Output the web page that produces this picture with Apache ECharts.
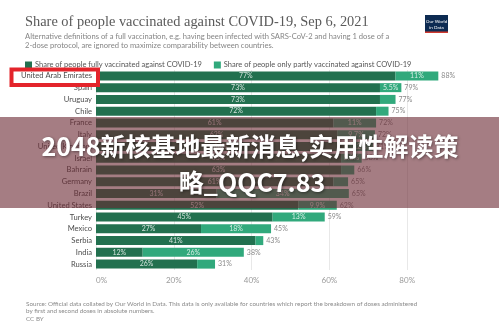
<!DOCTYPE html>
<html>
<head>
<meta charset="utf-8">
<script src="https://cdn.jsdelivr.net/npm/echarts@6/dist/echarts.min.js"></script>
<style>
  html, body { margin: 0; padding: 0; background: #fff; }
  #chart { width: 499px; height: 327px; }
</style>
</head>
<body>
<div id="chart"></div>
<script>
// Countries, top to bottom
const countries = ['United Arab Emirates', 'Spain', 'Uruguay', 'Chile', 'France', 'Italy',
  'United Kingdom', 'Israel', 'Bahrain', 'Germany', 'Brazil', 'United States',
  'Turkey', 'Mexico', 'Serbia', 'India', 'Russia'];
// Share fully vaccinated (%)
const fully = [77, 73, 73, 72, 61, 62, 64, 63, 63, 61, 31, 52, 45.4, 27, 41, 12, 26];
// Share only partly vaccinated (%)
const partly = [11, 5.5, 4, 3.2, 11, 9.7, 7.2, 5.3, 3.4, 3.8, 34, 9.9, 13.4, 18, 2, 26, 4.6];
// Axis range and step (%)
const xMin = 0, xMax = 100, xStep = 20;

const seriesNames = ['Share of people fully vaccinated against COVID-19',
  'Share of people only partly vaccinated against COVID-19'];

const totals = fully.map((v, i) => v + partly[i]);
const fmtPct = v => (v < 10 ? v.toFixed(1) : Math.round(v)) + '%';

const chart = echarts.init(document.getElementById('chart'), null, { renderer: 'canvas' });

const labelFont = 'Lato, "Noto Sans", sans-serif';

chart.setOption({
  animation: false,
  backgroundColor: '#ffffff',
  title: [{
    text: 'Share of people vaccinated against COVID-19, Sep 6, 2021',
    subtext: 'Alternative definitions of a full vaccination, e.g. having been infected with SARS-CoV-2 and having 1 dose of a\n2-dose protocol, are ignored to maximize comparability between countries.',
    left: 20, top: 10,
    itemGap: 3,
    textStyle: { fontFamily: '"Liberation Serif", serif', fontSize: 14.4, fontWeight: 'normal', color: '#5a5a5a' },
    subtextStyle: { fontFamily: labelFont, fontSize: 7.6, color: '#858585', lineHeight: 9 }
  }, {
    text: 'Source: Official data collated by Our World in Data. This data is only available for countries which report the breakdown of doses administered\nby first and second doses in absolute numbers.\nCC BY',
    left: 21, top: 295,
    textStyle: { fontFamily: labelFont, fontSize: 6.3, fontWeight: 'normal', color: '#8a8a8a', lineHeight: 7.5 }
  }],
  legend: {
    data: seriesNames,
    left: 20, top: 56,
    icon: 'rect', itemWidth: 7, itemHeight: 7, itemGap: 12,
    textStyle: { fontFamily: labelFont, fontSize: 7.5, color: '#555', padding: [0, 0, 0, -2] }
  },
  grid: { left: 96, right: 14, top: 70, height: 200 },
  xAxis: {
    type: 'value', min: xMin, max: xMax, interval: xStep,
    axisLine: { show: false }, axisTick: { show: false },
    axisLabel: {
      formatter: v => v + '%', fontFamily: labelFont, fontSize: 8, color: '#9a9a9a',
      margin: 6, showMaxLabel: false, alignMinLabel: 'left'
    },
    splitLine: { lineStyle: { color: ['#e8e8e8', '#e8e8e8', '#e8e8e8', '#e8e8e8', '#e8e8e8', 'rgba(0,0,0,0)'], width: 1 } }
  },
  yAxis: {
    type: 'category', data: countries, inverse: true,
    axisLine: { show: false }, axisTick: { show: false },
    axisLabel: { fontFamily: labelFont, fontSize: 7.6, color: '#4d4d4d', margin: 4 }
  },
  series: [{
    name: 'total', type: 'bar', data: totals, barWidth: 9, barGap: '-100%', z: 1,
    itemStyle: { color: 'rgba(0,0,0,0)' }, silent: true,
    label: { show: true, position: 'right', distance: 3, formatter: p => Math.round(p.value) + '%',
      fontFamily: labelFont, fontSize: 7, color: '#8a8a8a' }
  }, {
    name: seriesNames[0], type: 'bar', stack: 'vax', data: fully, barWidth: 9, z: 2,
    itemStyle: { color: '#22704f' },
    label: { show: true, position: 'inside', formatter: p => Math.round(p.value) + '%',
      fontFamily: labelFont, fontSize: 7, color: 'rgba(255,255,255,0.8)' }
  }, {
    name: seriesNames[1], type: 'bar', stack: 'vax', barWidth: 9, z: 2,
    data: partly.map(v => ({ value: v, label: { show: v >= 5 } })),
    itemStyle: { color: '#31a97c' },
    label: { position: 'inside', formatter: p => fmtPct(p.value),
      fontFamily: labelFont, fontSize: 7, color: 'rgba(255,255,255,0.8)' }
  }],
  graphic: [
    // Our World in Data badge
    { type: 'rect', left: 425, top: 15, shape: { width: 23, height: 18 }, style: { fill: '#0d2b52' }, z: 10 },
    { type: 'rect', left: 425, top: 31.5, shape: { width: 23, height: 1.5 }, style: { fill: '#d13a2f' }, z: 11 },
    { type: 'text', x: 436.5, y: 19, z: 11, style: { text: 'Our World\nin Data', fill: '#fff', align: 'center',
      verticalAlign: 'top', fontFamily: labelFont, fontSize: 4.6, lineHeight: 5.5 } },
    // red highlight around the first country
    { type: 'rect', z: 20, shape: { x: 11.5, y: 69.5, width: 86.5, height: 15.5 },
      style: { fill: 'none', stroke: '#e3242b', lineWidth: 4 } },
    // caption band
    { type: 'rect', z: 30, shape: { x: 0, y: 117, width: 499, height: 91 },
      style: { fill: 'rgba(105,38,48,0.6)' } },
    { type: 'text', z: 31, x: 250, y: 146, style: { text: '2048新核基地最新消息,实用性解读策',
      fill: '#ffffff', align: 'center', verticalAlign: 'middle', fontWeight: 'bold', fontSize: 25,
      fontFamily: '"Noto Sans CJK SC", sans-serif',
      textShadowColor: 'rgba(0,0,0,0.45)', textShadowBlur: 3, textShadowOffsetX: 1, textShadowOffsetY: 1 } },
    { type: 'text', z: 31, x: 252, y: 182, style: { text: '略_QQC7.83',
      fill: '#ffffff', align: 'center', verticalAlign: 'middle', fontWeight: 'bold', fontSize: 25,
      fontFamily: '"Noto Sans CJK SC", sans-serif',
      textShadowColor: 'rgba(0,0,0,0.45)', textShadowBlur: 3, textShadowOffsetX: 1, textShadowOffsetY: 1 } }
  ]
});
</script>
</body>
</html>
